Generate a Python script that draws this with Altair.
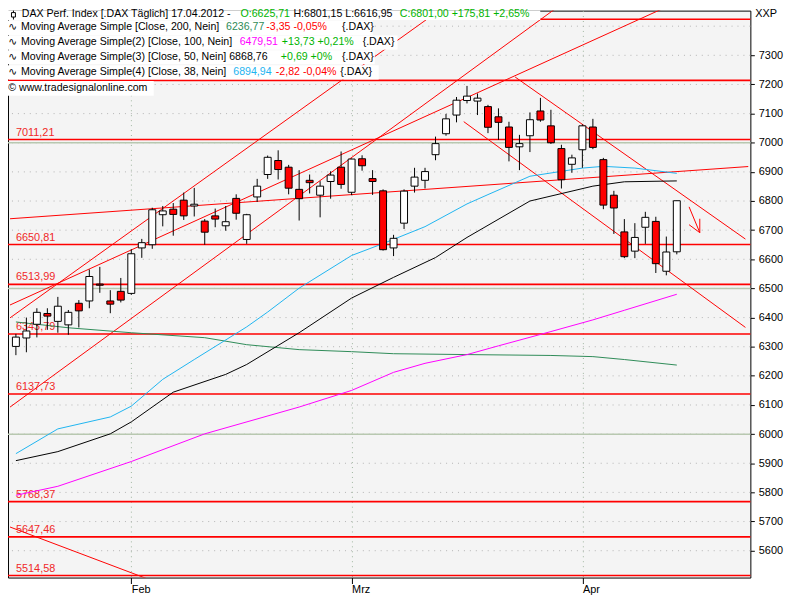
import altair as alt
import pandas as pd

FONT = "Liberation Sans, Arial, DejaVu Sans"

# ---------------- candle data: trading day index 0 = 17.01.2012 ... 63 = 17.04.2012
day_idx = list(range(64))
opens = [6301, 6330, 6377, 6414, 6387, 6375, 6449, 6457, 6515, 6457, 6490,
         6483, 6639, 6650, 6753, 6772, 6803, 6783, 6731, 6749, 6715, 6809, 6668, 6814,
         6891, 6939, 6916, 6840, 6871, 6820, 6867, 6916,
         6830, 6945, 6877, 6835, 6639, 6724, 6851, 6871, 6959, 7031, 7095, 7145, 7143,
         7124, 7089, 7054, 6986, 7024, 7109, 7058, 6980, 6926,
         6976, 7054, 6942, 6820, 6694, 6628, 6710, 6730, 6559, 6625.71]
highs = [6344, 6400, 6432, 6432, 6471, 6426, 6460, 6565, 6574, 6494, 6536,
         6634, 6670, 6777, 6783, 6793, 6829, 6845, 6738, 6774, 6783, 6823, 6756, 6876,
         6956, 6974, 6924, 6906, 6891, 6868, 6902, 6970,
         6946, 6957, 6906, 6840, 6684, 6840, 6914, 6914, 7021, 7099, 7157, 7195, 7169,
         7130, 7118, 7072, 7027, 7104, 7154, 7113, 6993, 6959,
         7063, 7082, 6948, 6835, 6738, 6724, 6763, 6746, 6678, 6801.15]
lows = [6271, 6281, 6332, 6358, 6348, 6341, 6366, 6432, 6485, 6415, 6452,
        6478, 6605, 6636, 6713, 6681, 6735, 6747, 6650, 6710, 6698, 6736, 6653, 6797,
        6876, 6874, 6823, 6733, 6826, 6744, 6808, 6842,
        6820, 6904, 6821, 6630, 6611, 6704, 6829, 6843, 6940, 7024, 7070, 7135, 7095,
        7033, 7010, 6936, 6906, 6968, 7072, 6996, 6843, 6897,
        6914, 6978, 6772, 6687, 6604, 6604, 6653, 6553, 6545, 6616.95]
closes = [6333, 6354, 6418, 6405, 6439, 6418, 6423, 6541, 6511, 6446, 6460,
          6619, 6657, 6770, 6766, 6754, 6749, 6789, 6693, 6738, 6729, 6758, 6753, 6851,
          6950, 6908, 6844, 6808, 6863, 6851, 6889, 6857,
          6944, 6921, 6867, 6633, 6672, 6834, 6882, 6901, 6997, 7082, 7146, 7160, 7153,
          7053, 7070, 6984, 6997, 7079, 7078, 7000, 6873, 6948,
          7058, 6984, 6786, 6776, 6609, 6675, 6744, 6585, 6625, 6801.00]

# ---------------- moving averages (sampled at day indices)
ma200_i = [0, 5, 11, 18, 22, 27, 32, 36, 43, 51, 55, 58, 63]
ma200_v = [6385, 6365, 6348, 6331, 6307, 6290, 6283, 6276, 6273, 6270, 6266, 6256, 6237]
ma100_i = [0, 4, 11, 18, 27, 32, 36, 39, 43, 46, 51, 55, 58, 63]
ma100_v = [5790, 5821, 5906, 6001, 6093, 6150, 6212, 6243, 6273, 6303, 6352, 6392, 6425, 6480]
ma50_i = [0, 4, 9, 11, 15, 20, 22, 27, 32, 36, 40, 43, 49, 55, 58, 63]
ma50_v = [5909, 5940, 6001, 6042, 6144, 6205, 6239, 6348, 6467, 6538, 6606, 6675, 6800, 6851, 6866, 6869]
ma38_i = [0, 4, 9, 11, 14, 17, 22, 24, 27, 32, 35, 39, 43, 45, 49, 54, 56, 59, 63]
ma38_v = [5933, 6018, 6059, 6096, 6188, 6256, 6368, 6419, 6501, 6613, 6654, 6712, 6790, 6822,
          6885, 6913, 6919, 6913, 6895]
ma_colors = ["#2e8b57", "#ff00ff", "#000000", "#1eb4f0"]

# ---------------- horizontal levels
levels = [7424, 7214, 7011.21, 6650.81, 6513.99, 6343.79, 6137.73, 5768.37, 5647.46, 5514.58]
level_labels = ["", "", "7011,21", "6650,81", "6513,99", "6343,79", "6137,73", "5768,37", "5647,46", "5514,58"]
round_levels = [6000, 6500, 7000]
grid_levels = [5600, 5700, 5800, 5900, 6000, 6100, 6200, 6300, 6400, 6500, 6600, 6700,
               6800, 6900, 7000, 7100, 7200, 7300, 7400]
y_ticks = [5600, 5700, 5800, 5900, 6000, 6100, 6200, 6300, 6400, 6500, 6600, 6700,
           6800, 6900, 7000, 7100, 7200, 7300]
month_idx = [11, 32, 54]
month_names = ["Feb", "Mrz", "Apr"]

# ---------------- trend lines (day index, value) endpoints
tl_i1 = [-0.56, -0.56, -0.56, -0.56, 47.59, 42.69, -0.56]
tl_v1 = [6399.0, 6443.2, 6092.8, 6739.1, 7225.5, 7072.4, 5681.3]
tl_i2 = [42.04, 64.26, 53.15, 69.81, 69.54, 69.54, 12.41]
tl_v2 = [7497.6, 7502.7, 7505.4, 6918.3, 6669.4, 6366.3, 5505.1]
# arrow (shaft + two head strokes)
ar_i1 = [64.17, 65.19, 64.17]
ar_v1 = [6779.9, 6739.1, 6718.7]
ar_i2 = [65.19, 65.19, 65.19]
ar_v2 = [6691.5, 6691.5, 6691.5]

# ---------------- scales / axes
xs = alt.Scale(domain=[-0.28, 69.54], nice=False, zero=False)
ys = alt.Scale(domain=[5507.8, 7453.4], nice=False, zero=False)
label_expr = " : ".join(f"datum.value == {m} ? '{n}'" for m, n in zip(month_idx, month_names)) + " : ''"
x_axis = alt.Axis(values=month_idx, labelExpr=label_expr, title=None, grid=True, gridDash=[1, 4],
                  gridColor="#9fb59f", gridWidth=1, tickSize=6, tickColor="black", domain=False,
                  labelAlign="left", labelBaseline="top", labelPadding=0, labelFontSize=11,
                  labelFont=FONT, labelColor="black", labelFlush=False)
y_axis = alt.Axis(values=y_ticks, orient="right", title=None, grid=False, tickSize=4, tickColor="black",
                  domain=False, labelPadding=4, labelFontSize=11, labelFont=FONT, labelColor="black",
                  format="d")


def X(f):
    return alt.X(f, type="quantitative", scale=xs, axis=x_axis)


def Y(f):
    return alt.Y(f, type="quantitative", scale=ys, axis=y_axis)


candles = pd.DataFrame({"i": day_idx, "open": opens, "high": highs, "low": lows, "close": closes})

grid_df = pd.DataFrame({"level": grid_levels})
round_df = pd.DataFrame({"level": round_levels})
lv_df = pd.DataFrame({"level": levels, "label": level_labels})
tl_df = pd.DataFrame({"i1": tl_i1, "v1": tl_v1, "i2": tl_i2, "v2": tl_v2})
ar_df = pd.DataFrame({"i1": ar_i1, "v1": ar_v1, "i2": ar_i2, "v2": ar_v2})
dummy = pd.DataFrame({"a": [0]})

layers = []
layers.append(alt.Chart(grid_df).mark_rule(color="#b4b4b4", strokeDash=[1, 5], strokeWidth=1).encode(y=Y("level")))
layers.append(alt.Chart(round_df).mark_rule(color="#b8c8b0", strokeWidth=1.5).encode(y=Y("level")))
layers.append(alt.Chart(lv_df).mark_rule(color="#ff0000", strokeWidth=1.6).encode(y=Y("level")))
layers.append(alt.Chart(lv_df).mark_text(align="left", baseline="middle", dy=-7, fontSize=11, font=FONT,
                                         color="#f02828").encode(x=alt.value(8), y=Y("level"), text="label"))
layers.append(alt.Chart(tl_df).mark_rule(color="#ff0000", strokeWidth=1, clip=True).encode(
    x=X("i1"), y=Y("v1"), x2=alt.X2("i2"), y2=alt.Y2("v2")))
layers.append(alt.Chart(ar_df).mark_rule(color="#ff0000", strokeWidth=1, clip=True).encode(
    x=X("i1"), y=Y("v1"), x2=alt.X2("i2"), y2=alt.Y2("v2")))
for ii, vv, col in zip([ma200_i, ma100_i, ma50_i, ma38_i], [ma200_v, ma100_v, ma50_v, ma38_v], ma_colors):
    layers.append(alt.Chart(pd.DataFrame({"i": ii, "v": vv})).mark_line(strokeWidth=1, clip=True, color=col)
                  .encode(x=X("i"), y=Y("v")))
layers.append(alt.Chart(candles).mark_rule(color="black", strokeWidth=1).encode(
    x=X("i"), y=Y("low"), y2=alt.Y2("high")))
layers.append(alt.Chart(candles).mark_bar(size=7, stroke="black", strokeWidth=1).encode(
    x=X("i"), y=Y("open"), y2=alt.Y2("close"),
    fill=alt.condition("datum.close >= datum.open", alt.value("#ffffff"), alt.value("#ff0000"))))

# ---------------- legend header boxes and text (layout in pixels)
boxes = [(0, 537, 0, 9.5), (0, 368, 10, 24.5), (0, 393, 25, 39.5), (0, 370, 40, 54),
         (0, 374, 55, 69.5), (0, 147, 71, 86)]
for x0, x1, y0, y1 in boxes:
    layers.append(alt.Chart(dummy).mark_rect(color="white").encode(
        x=alt.value(x0), x2=alt.value(x1), y=alt.value(y0), y2=alt.value(y1)))

# candle icon
layers.append(alt.Chart(dummy).mark_rule(color="black", strokeWidth=1).encode(
    x=alt.value(5.5), y=alt.value(0), y2=alt.value(9)))
layers.append(alt.Chart(dummy).mark_rect(color="white", stroke="black", strokeWidth=1).encode(
    x=alt.value(3.5), x2=alt.value(7.5), y=alt.value(2), y2=alt.value(6.5)))

BLK, GRN, RED = "#000000", "#00b400", "#ff0000"
segments = [
    ("DAX Perf. Index [.DAX  Täglich] 17.04.2012 -", 13.9, 3.5, BLK),
    ("O:6625,71", 234.6, 3.5, GRN),
    ("H:6801,15 L:6616,95", 288, 3.5, BLK),
    ("C:6801,00 +175,81 +2,65%", 395.3, 3.5, GRN),
    ("∿", 0.3, 17, BLK),
    ("Moving Average Simple [Close, 200, Nein]", 13.1, 17, BLK),
    ("6236,77", 220, 17, "#2e8b57"),
    ("-3,35 -0,05%", 260.6, 17, RED),
    ("{.DAX}", 337, 17, BLK),
    ("∿", 0.3, 32, BLK),
    ("Moving Average Simple(2) [Close, 100, Nein]", 13.1, 32, BLK),
    ("6479,51", 233.7, 32, "#ff00ff"),
    ("+13,73 +0,21%", 276.3, 32, GRN),
    ("{.DAX}", 357.8, 32, BLK),
    ("∿", 0.3, 46.5, BLK),
    ("Moving Average Simple(3) [Close, 50, Nein] 6868,76", 13.1, 46.5, BLK),
    ("+0,69 +0%", 275.3, 46.5, GRN),
    ("{.DAX}", 337, 46.5, BLK),
    ("∿", 0.3, 62, BLK),
    ("Moving Average Simple(4) [Close, 38, Nein]", 13.1, 62, BLK),
    ("6894,94", 227.3, 62, "#1eb4f0"),
    ("-2,82 -0,04%", 270.2, 62, RED),
    ("{.DAX}", 335.3, 62, BLK),
    ("© www.tradesignalonline.com", 0.3, 78.5, BLK),
]
for txt, tx, ty, col in segments:
    layers.append(alt.Chart(dummy).mark_text(align="left", baseline="middle", fontSize=10.7, font=FONT,
                                             color=col).encode(x=alt.value(tx), y=alt.value(ty),
                                                               text=alt.value(txt)))

layers.append(alt.Chart(dummy).mark_text(align="left", baseline="middle", fontSize=11, font=FONT,
                                         color="black").encode(x=alt.value(754), y=alt.value(3.5),
                                                               text=alt.value("XXP")))

chart = alt.layer(*layers).properties(
    width=749, height=572,
    autosize=alt.AutoSizeParams(type="none"),
    padding={"left": 0, "top": 0, "right": 42, "bottom": 20},
    background="white",
).configure_view(fill="#f4f4f4", stroke="black", strokeWidth=1)

chart.save("out.html", embed_options={"renderer": "svg", "actions": False})
